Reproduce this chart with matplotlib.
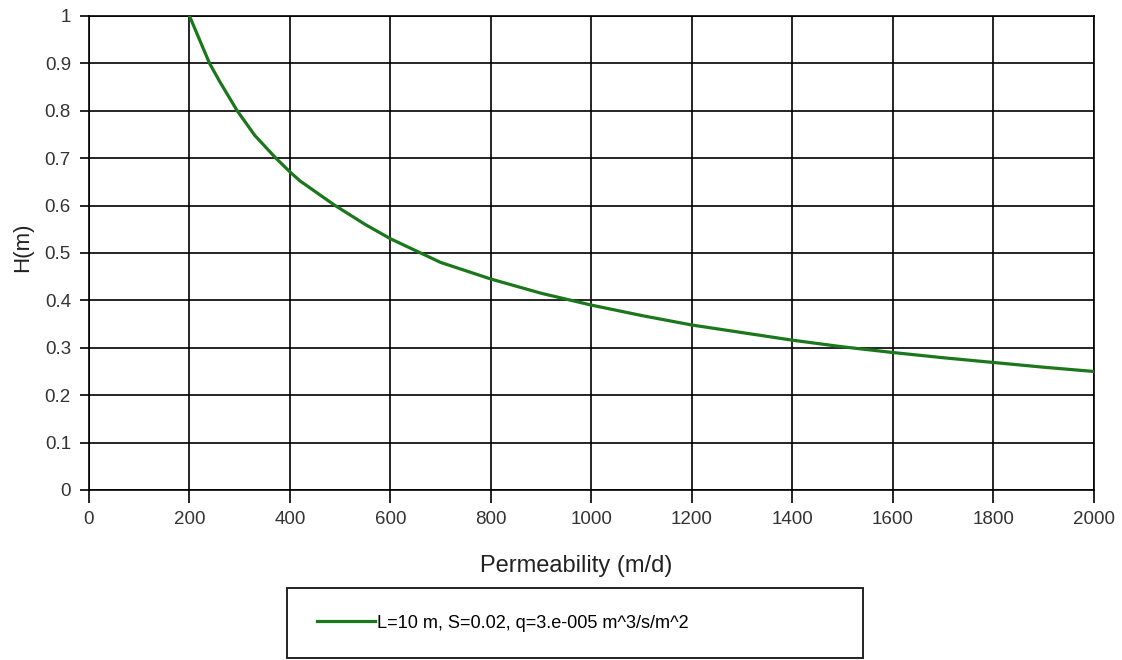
import numpy as np
import matplotlib
matplotlib.use('Agg')
import matplotlib.pyplot as plt
from matplotlib.patches import Rectangle

plt.rcParams['font.family'] = ['Liberation Sans', 'DejaVu Sans']

# values
perm = [200, 220, 240, 260, 295, 330, 372, 400, 420, 490, 550, 600, 700, 800,
        900, 1000, 1100, 1200, 1300, 1400, 1500, 1600, 1700, 1800, 1900, 2000]
head = [1.0, 0.95, 0.9, 0.862, 0.8, 0.748, 0.7, 0.671, 0.652, 0.6, 0.56, 0.53,
        0.48, 0.445, 0.415, 0.39, 0.368, 0.348, 0.332, 0.316, 0.302, 0.29,
        0.279, 0.269, 0.259, 0.25]
series_label = 'L=10 m, S=0.02, q=3.e-005 m^3/s/m^2'
xticks = np.arange(0, 2001, 200)
yticks = np.round(np.arange(0, 1.01, 0.1), 1)

fig = plt.figure(figsize=(11.22, 6.6), dpi=100)
ax = fig.add_axes([0.0793, 0.2576, 0.8957, 0.7182])

line, = ax.plot(perm, head, color='#1b771b', lw=2.3, label=series_label, zorder=3)

ax.set_xlim(0, 2000)
ax.set_ylim(0, 1)
ax.set_xticks(xticks)
ax.set_yticks(yticks)
ax.set_yticklabels(['0'] + ['%.1f' % v for v in yticks[1:-1]] + ['1'])
ax.grid(True, color='black', lw=1.2)
for s in ax.spines.values():
    s.set_color('black')
    s.set_linewidth(1.2)
ax.tick_params(direction='out', width=1.2, labelsize=13.5, labelcolor='#333333')
ax.tick_params(axis='x', length=9, pad=6)
ax.tick_params(axis='y', length=6.5, pad=6.5)

ax.set_xlabel('Permeability (m/d)', fontsize=17, color='#222222')
ax.xaxis.set_label_coords(0.485, -0.137)
ax.set_ylabel('H(m)', fontsize=16, color='#222222')
ax.yaxis.set_label_coords(-0.056, 0.513)

# legend box
fig.add_artist(Rectangle((0.2558, 0.003), 0.5134, 0.106, transform=fig.transFigure,
                         fill=False, edgecolor='#222222', lw=1.4))
fig.legend(handles=[line], loc='center left', bbox_to_anchor=(0.2745, 0.056),
           frameon=False, fontsize=13.1, borderpad=0, handlelength=3.2,
           handletextpad=0.1)

fig.savefig('out.png', dpi=100)
